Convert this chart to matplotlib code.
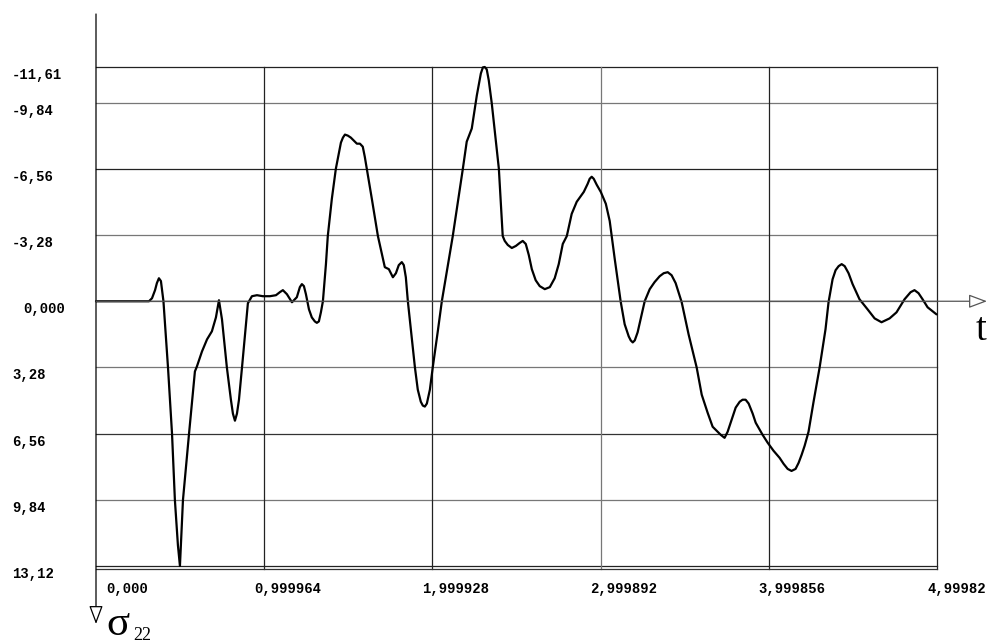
import matplotlib
matplotlib.use("Agg")
import matplotlib.pyplot as plt
from matplotlib.transforms import blended_transform_factory, offset_copy

# ---- data ----
t = [0.000, 0.315, 0.333, 0.351, 0.362, 0.374, 0.386, 0.401, 0.428, 0.452, 0.469,
     0.487, 0.499, 0.517, 0.553, 0.588, 0.600, 0.630, 0.660, 0.689, 0.713, 0.731,
     0.749, 0.778, 0.802, 0.814, 0.826, 0.838, 0.850, 0.868, 0.903, 0.927, 0.957,
     0.992, 1.034, 1.070, 1.093, 1.111, 1.135, 1.165, 1.194, 1.212, 1.224, 1.236,
     1.248, 1.266, 1.283, 1.301, 1.313, 1.325, 1.337, 1.349, 1.367, 1.378, 1.402,
     1.426, 1.444, 1.456, 1.468, 1.480, 1.497, 1.515, 1.533, 1.551, 1.569, 1.586,
     1.598, 1.610, 1.640, 1.676, 1.717, 1.741, 1.765, 1.783, 1.800, 1.818, 1.830,
     1.842, 1.854, 1.896, 1.913, 1.931, 1.943, 1.955, 1.967, 1.985, 2.002, 2.032,
     2.056, 2.121, 2.181, 2.204, 2.234, 2.264, 2.288, 2.300, 2.311, 2.323, 2.335,
     2.353, 2.395, 2.418, 2.430, 2.448, 2.472, 2.496, 2.519, 2.537, 2.555, 2.573,
     2.591, 2.614, 2.638, 2.668, 2.698, 2.727, 2.751, 2.775, 2.799, 2.828, 2.858,
     2.900, 2.923, 2.935, 2.947, 2.959, 2.977, 3.001, 3.031, 3.054, 3.084, 3.119,
     3.143, 3.167, 3.179, 3.191, 3.203, 3.220, 3.262, 3.292, 3.321, 3.351, 3.375,
     3.399, 3.422, 3.446, 3.482, 3.523, 3.571, 3.601, 3.636, 3.666, 3.690, 3.714,
     3.737, 3.755, 3.779, 3.803, 3.827, 3.844, 3.862, 3.880, 3.904, 3.922, 3.963,
     3.993, 4.028, 4.064, 4.088, 4.112, 4.135, 4.159, 4.177, 4.195, 4.213, 4.236,
     4.266, 4.302, 4.337, 4.355, 4.379, 4.397, 4.415, 4.433, 4.451, 4.474, 4.498,
     4.539, 4.587, 4.629, 4.670, 4.718, 4.759, 4.807, 4.843, 4.866, 4.890, 4.914,
     4.944, 4.997]
sigma22 = [0.00, 0.00, -0.15, -0.55, -0.90, -1.14, -1.00, 0.00, 3.28, 6.57, 9.85,
           12.09, 13.12, 9.85, 6.57, 3.48, 3.23, 2.49, 1.89, 1.49, 0.80, -0.05,
           0.90, 3.28, 4.88, 5.57, 5.92, 5.57, 4.88, 3.28, 0.10, -0.25, -0.30,
           -0.25, -0.25, -0.30, -0.45, -0.55, -0.35, 0.05, -0.20, -0.70, -0.85, -0.75,
           -0.35, 0.40, 0.80, 1.00, 1.07, 1.00, 0.55, 0.00, -1.84, -3.23, -5.07,
           -6.57, -7.36, -7.86, -8.11, -8.26, -8.21, -8.11, -7.96, -7.81, -7.81, -7.66,
           -7.16, -6.57, -5.07, -3.23, -1.69, -1.59, -1.19, -1.39, -1.79, -1.94, -1.79,
           -1.19, 0.00, 3.28, 4.38, 4.98, 5.17, 5.22, 5.07, 4.38, 3.28, 1.49,
           0.00, -3.23, -6.57, -7.91, -8.56, -10.20, -11.29, -11.59, -11.61, -11.49, -10.95,
           -9.80, -6.57, -3.23, -2.99, -2.79, -2.64, -2.74, -2.89, -2.99, -2.84, -2.29,
           -1.59, -1.04, -0.75, -0.60, -0.70, -1.14, -1.84, -2.84, -3.23, -4.33, -4.93,
           -5.42, -5.82, -6.07, -6.17, -6.07, -5.77, -5.42, -4.83, -3.98, -2.09, 0.00,
           1.14, 1.74, 1.94, 2.04, 1.94, 1.54, 0.00, -0.60, -0.95, -1.24, -1.39,
           -1.44, -1.29, -0.90, 0.05, 1.64, 3.28, 4.63, 5.52, 6.22, 6.42, 6.62,
           6.77, 6.47, 5.87, 5.27, 4.98, 4.88, 4.88, 5.07, 5.57, 6.02, 6.62,
           7.01, 7.41, 7.76, 8.06, 8.31, 8.41, 8.31, 8.01, 7.61, 7.16, 6.47,
           4.98, 3.28, 1.39, 0.05, -1.09, -1.54, -1.74, -1.84, -1.74, -1.39, -0.85,
           -0.10, 0.40, 0.85, 1.04, 0.85, 0.55, -0.10, -0.45, -0.55, -0.40, -0.10,
           0.30, 0.65]

y_ticks = [-11.61, -9.84, -6.56, -3.28, 0.0, 3.28, 6.56, 9.84, 13.12]
y_labels = ["-11,61", "-9,84", "-6,56", "-3,28", "0,000", "3,28", "6,56", "9,84", "13,12"]
x_ticks = [0.0, 0.999964, 1.999928, 2.999892, 3.999856, 4.99982]
x_labels = ["0,000", "0,999964", "1,999928", "2,999892", "3,999856", "4,99982"]

W, H = 988, 644
fig = plt.figure(figsize=(W / 100, H / 100), dpi=100)
fig.patch.set_facecolor("white")

# axes region in pixels (left, right, top, bottom measured from top-left)
L, R, T, B = 96, 937, 67, 569
ax = fig.add_axes([L / W, 1 - B / H, (R - L) / W, (B - T) / H])
ax.set_xlim(0, 4.99982)
ax.set_ylim(13.27, -11.61)
for s in ["left", "right", "top"]:
    ax.spines[s].set_visible(False)
ax.spines["bottom"].set_color("#333333")
ax.spines["bottom"].set_linewidth(0.9)
ax.set_xticks([])
ax.set_yticks([])

# grid lines
h_colors = ["#222222", "#777777", "#222222", "#777777", "#555555",
            "#777777", "#333333", "#777777", "#222222"]
for v, c in zip(y_ticks, h_colors):
    ax.axhline(v, color=c, lw=0.9, zorder=1, clip_on=False)
v_colors = ["#222222", "#222222", "#222222", "#777777", "#222222", "#222222"]
for x, c in zip(x_ticks[1:], v_colors[1:]):
    ax.axvline(x, color=c, lw=0.9, zorder=1, clip_on=False)

# the curve
ax.plot(t, sigma22, color="black", lw=1.6, zorder=3, clip_on=False,
        solid_joinstyle="round", solid_capstyle="round", antialiased=True)

# y axis with downward arrow
ax.annotate("", xy=(L / W, 1 - 624 / H), xytext=(L / W, 1 - 14 / H),
            xycoords="figure fraction", textcoords="figure fraction",
            arrowprops=dict(arrowstyle="-|>,head_length=0.8,head_width=0.3",
                            fc="white", ec="black", lw=0.9, mutation_scale=14,
                            shrinkA=0, shrinkB=0), zorder=4)
# x axis (t) with arrow at the right
ax.annotate("", xy=(987 / W, 0), xytext=(L / W, 0),
            xycoords=("figure fraction", "data"),
            textcoords=("figure fraction", "data"),
            arrowprops=dict(arrowstyle="-|>,head_length=0.8,head_width=0.3",
                            fc="white", ec="#555555", lw=0.9, mutation_scale=14,
                            shrinkA=0, shrinkB=0), zorder=4)

lab_font = dict(family="Liberation Mono", fontweight="bold", fontsize=10, color="black")

# y tick labels
ytr = blended_transform_factory(fig.transFigure, ax.transData)
for v, lab in zip(y_ticks, y_labels):
    xpix = 23 if lab == "0,000" else 12
    tr = offset_copy(ytr, fig=fig, x=0, y=-8, units="dots")
    ax.text(xpix / W, v, lab, transform=tr, ha="left", va="center", **lab_font)

# x tick labels
xtr = blended_transform_factory(ax.transData, fig.transFigure)
for i, (x, lab) in enumerate(zip(x_ticks, x_labels)):
    dx = 10 if i == 0 else -10
    tr = offset_copy(xtr, fig=fig, x=dx, y=0, units="dots")
    ax.text(x, 1 - 589.5 / H, lab, transform=tr, ha="left", va="center", **lab_font)

# axis names
fig.text(106 / W, 1 - 635 / H, "σ", family="Liberation Serif", fontsize=31,
         ha="left", va="baseline")
fig.text(133 / W, 1 - 640 / H, "22", family="Liberation Serif", fontsize=13,
         ha="left", va="baseline")
fig.text(976 / W, 1 - 340 / H, "t", family="Liberation Serif", fontsize=28,
         ha="left", va="baseline")

fig.savefig("out.png", dpi=100, facecolor="white")
